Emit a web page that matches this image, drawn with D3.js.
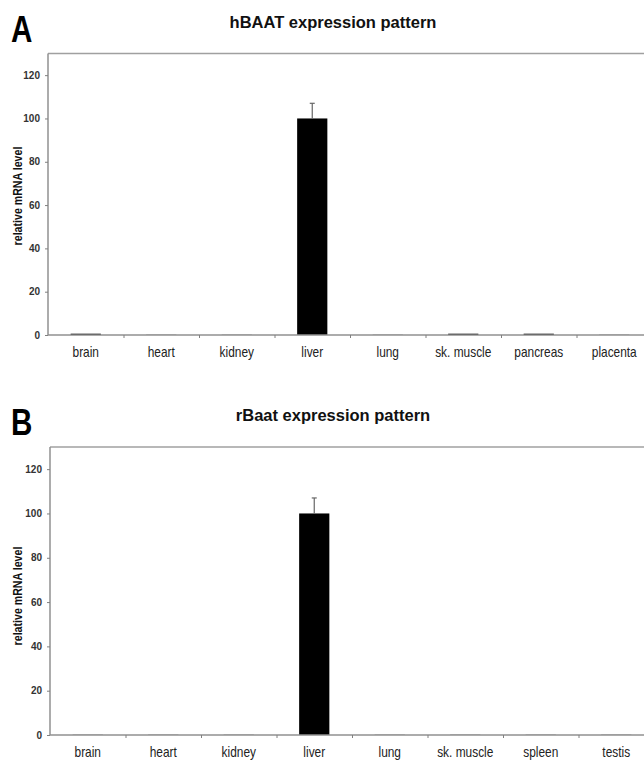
<!DOCTYPE html>
<html>
<head>
<meta charset="utf-8">
<script src="https://cdn.jsdelivr.net/npm/d3@7"></script>
<style>
  body { margin: 0; background: #fff; }
  svg { display: block; }
  .sans { font-family: "Liberation Sans", Arial, sans-serif; }
</style>
</head>
<body>
<div id="chart"></div>
<script>
// Data
var tissuesA = ["brain", "heart", "kidney", "liver", "lung", "sk. muscle", "pancreas", "placenta"];
var valuesA  = [0.6, 0.1, 0.1, 100, 0.1, 0.6, 0.6, 0.1];
var errorsA  = [0, 0, 0, 7, 0, 0, 0, 0];

var tissuesB = ["brain", "heart", "kidney", "liver", "lung", "sk. muscle", "spleen", "testis"];
var valuesB  = [0.1, 0.1, 0.1, 100, 0.1, 0.1, 0.1, 0.1];
var errorsB  = [0, 0, 0, 7, 0, 0, 0, 0];

var yTicks = [0, 20, 40, 60, 80, 100, 120];
var yMax = 130;

var width = 644, height = 764;

var svg = d3.select("#chart")
  .append("svg")
    .attr("width", width)
    .attr("height", height);

// one panel = letter, title, framed bar chart
function drawPanel(opt) {
  var g = svg.append("g");

  var x = d3.scaleBand()
    .domain(opt.cats)
    .range([opt.left, opt.left + opt.cats.length * opt.band])
    .padding(0);

  var xi = d3.scaleLinear()
    .domain([0, opt.cats.length])
    .range([opt.left, opt.left + opt.cats.length * opt.band]);

  var y = d3.scaleLinear()
    .domain([0, yMax])
    .range([opt.bottom, opt.top]);

  // panel letter (condensed heavy look)
  g.append("text")
    .attr("class", "sans")
    .attr("transform", "translate(11," + opt.letterY + ") scale(0.8,1)")
    .style("font-size", "37px")
    .style("font-weight", "bold")
    .text(opt.letter);

  // title
  g.append("text")
    .attr("class", "sans")
    .attr("x", 333)
    .attr("y", opt.titleY)
    .attr("text-anchor", "middle")
    .style("font-size", "16.5px")
    .style("font-weight", "bold")
    .style("fill", "#111")
    .text(opt.title);

  // plot frame top
  g.append("line")
    .attr("x1", opt.left).attr("x2", width + 10)
    .attr("y1", opt.top).attr("y2", opt.top)
    .style("stroke", "#a0a0a0")
    .style("stroke-width", 1.5);

  // bars
  g.selectAll("rect.bar")
    .data(opt.vals)
    .enter()
    .append("rect")
      .attr("class", "bar")
      .attr("x", function(d, i) { return x(opt.cats[i]) + x.bandwidth() * 0.3; })
      .attr("width", x.bandwidth() * 0.4)
      .attr("y", function(d) { return y(d); })
      .attr("height", function(d) { return y(0) - y(d); })
      .style("fill", "#000");

  // error bars
  var errs = opt.vals.map(function(v, i) { return {v: v, e: opt.errs[i], c: opt.cats[i]}; })
    .filter(function(d) { return d.e > 0; });
  var eb = g.selectAll("g.err").data(errs).enter().append("g").attr("class", "err");
  eb.append("line")
    .attr("x1", function(d) { return x(d.c) + x.bandwidth() / 2; })
    .attr("x2", function(d) { return x(d.c) + x.bandwidth() / 2; })
    .attr("y1", function(d) { return y(d.v); })
    .attr("y2", function(d) { return y(d.v + d.e); })
    .style("stroke", "#666")
    .style("stroke-width", 1.2);
  eb.append("line")
    .attr("x1", function(d) { return x(d.c) + x.bandwidth() / 2 - 2.5; })
    .attr("x2", function(d) { return x(d.c) + x.bandwidth() / 2 + 2.5; })
    .attr("y1", function(d) { return y(d.v + d.e); })
    .attr("y2", function(d) { return y(d.v + d.e); })
    .style("stroke", "#666")
    .style("stroke-width", 1.2);

  // y axis
  var yAxis = g.append("g")
    .attr("transform", "translate(" + opt.left + ",0)")
    .call(d3.axisLeft(y).tickValues(yTicks).tickSize(3).tickPadding(5));
  yAxis.select(".domain")
    .attr("d", "M0," + opt.top + "V" + opt.bottom)
    .style("stroke", "#909090")
    .style("stroke-width", 1.5);
  yAxis.selectAll(".tick line").style("stroke", "#808080");
  yAxis.selectAll(".tick text")
    .attr("class", "sans")
    .style("font-size", "10px")
    .style("font-weight", "bold")
    .style("fill", "#333");

  // x axis: boundary ticks
  var xAxis = g.append("g")
    .attr("transform", "translate(0," + opt.bottom + ")")
    .call(d3.axisBottom(xi).tickValues(d3.range(1, opt.cats.length + 1)).tickSize(3).tickFormat(""));
  xAxis.select(".domain")
    .attr("d", "M" + opt.left + ",0H" + (width + 10))
    .style("stroke", "#909090")
    .style("stroke-width", 1.5);
  xAxis.selectAll(".tick line").style("stroke", "#808080");

  // x labels, condensed
  var xLab = g.append("g")
    .attr("transform", "translate(0," + opt.bottom + ")")
    .call(d3.axisBottom(x).tickSize(0).tickPadding(0));
  xLab.select(".domain").remove();
  xLab.selectAll(".tick text")
    .attr("class", "sans")
    .attr("y", null)
    .attr("dy", null)
    .attr("transform", "translate(0,22) scale(0.85,1)")
    .style("font-size", "14px")
    .style("fill", "#222");

  // y label, condensed
  g.append("text")
    .attr("class", "sans")
    .attr("transform", "translate(22," + opt.yLabelY + ") rotate(-90) scale(0.85,1)")
    .attr("text-anchor", "middle")
    .style("font-size", "12.5px")
    .style("font-weight", "bold")
    .style("fill", "#111")
    .text("relative mRNA level");
}

drawPanel({
  letter: "A", letterY: 42, title: "hBAAT expression pattern", titleY: 28,
  cats: tissuesA, vals: valuesA, errs: errorsA,
  left: 48, band: 75.5, top: 53.5, bottom: 335, yLabelY: 196
});

drawPanel({
  letter: "B", letterY: 435, title: "rBaat expression pattern", titleY: 421,
  cats: tissuesB, vals: valuesB, errs: errorsB,
  left: 50, band: 75.5, top: 447, bottom: 735, yLabelY: 596
});
</script>
</body>
</html>
